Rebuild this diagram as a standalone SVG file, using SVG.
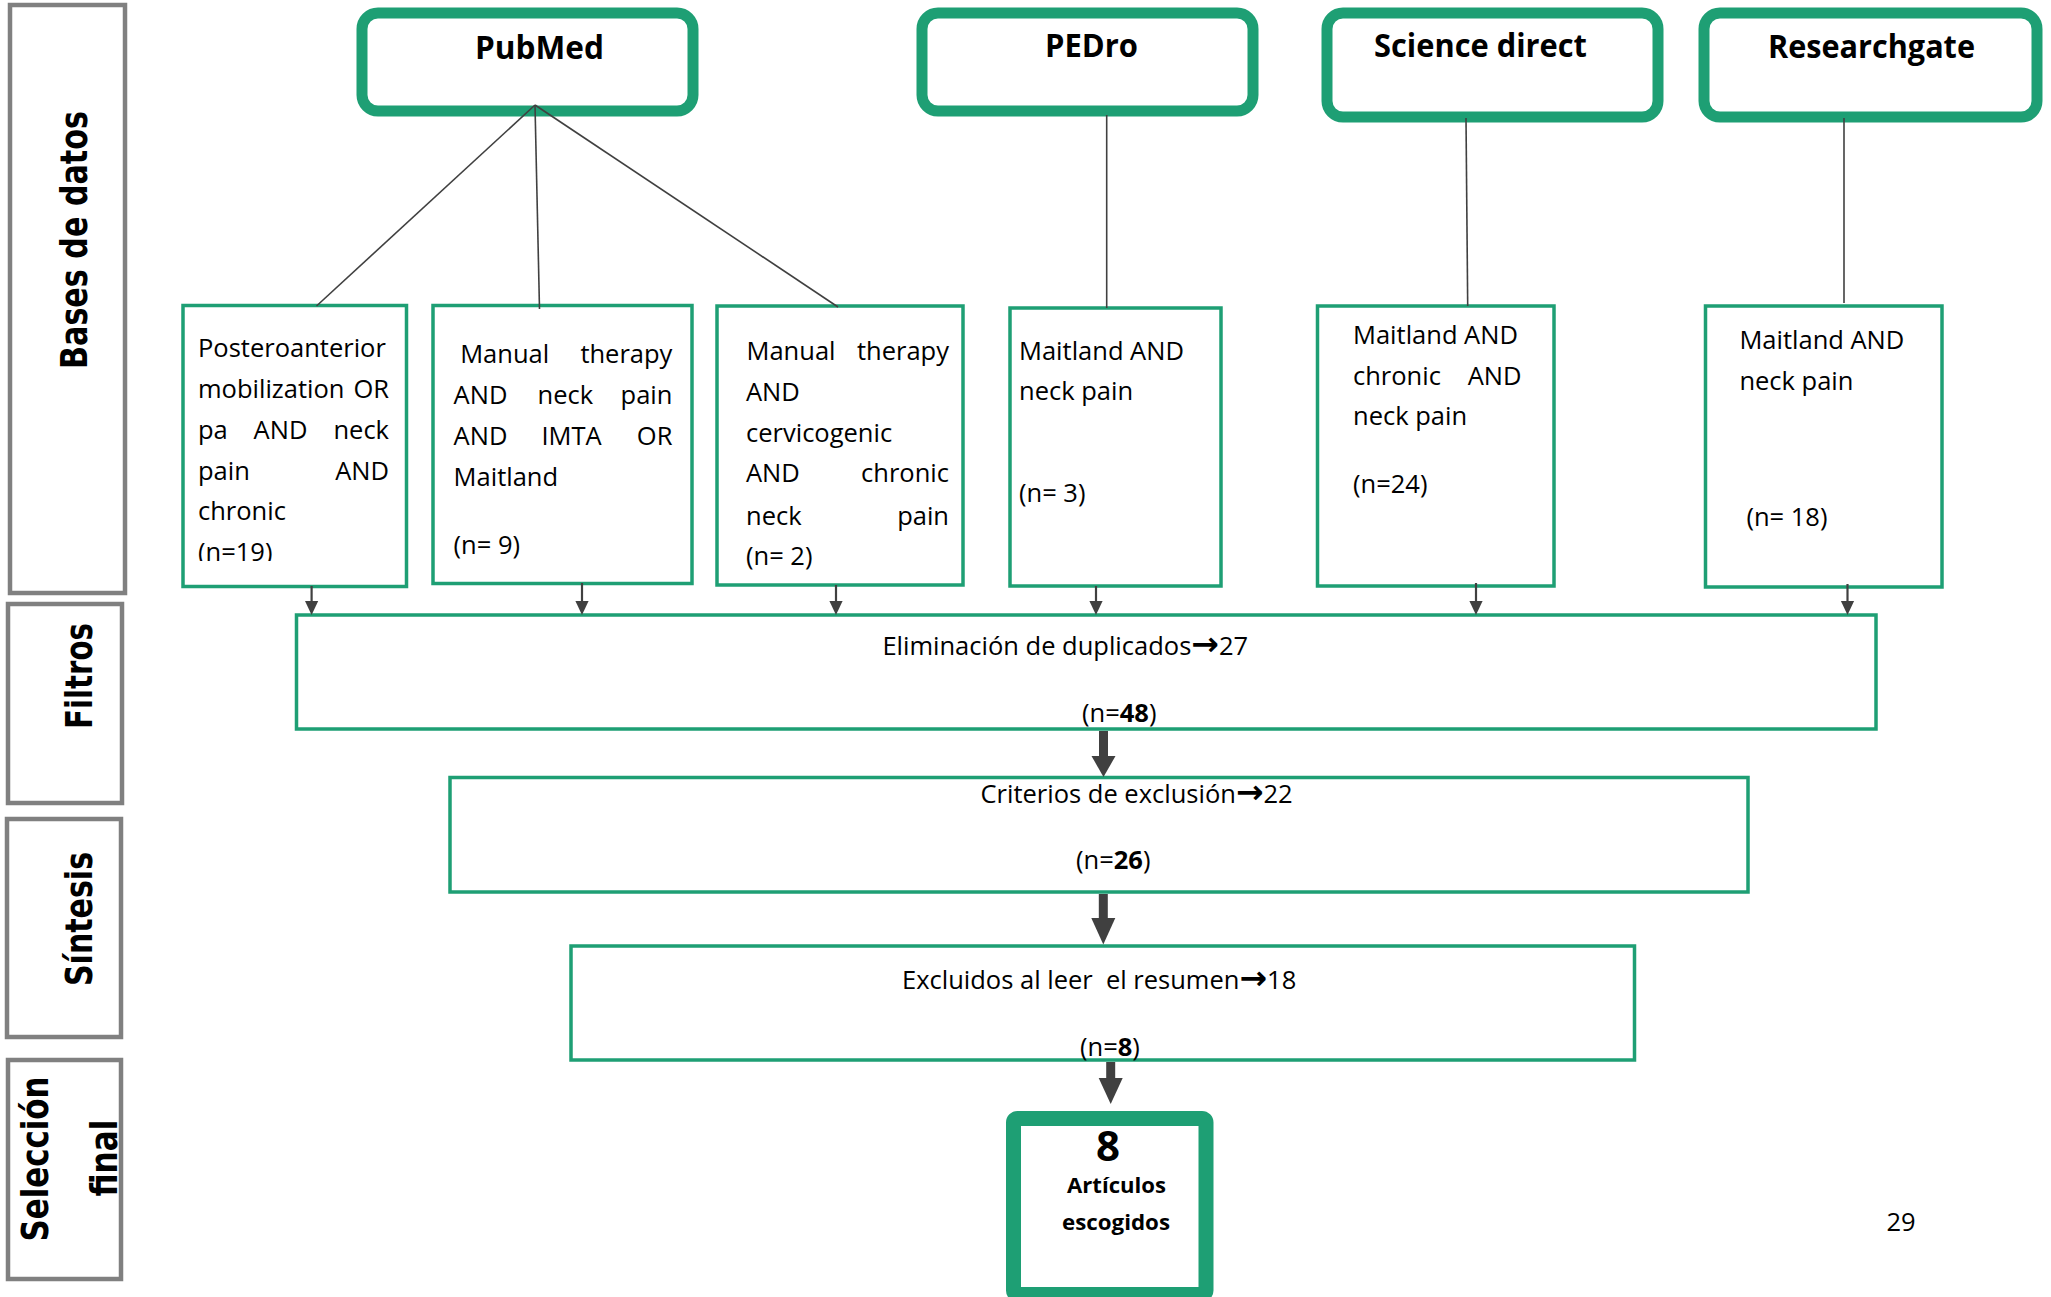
<svg xmlns="http://www.w3.org/2000/svg" width="2051" height="1297" viewBox="0 0 2051 1297">
<style>
.lab{fill:none;stroke:#808080;stroke-width:4.5}
.db{fill:#fff;stroke:#1E9F74;stroke-width:11}
.q{fill:#fff;stroke:#1E9F74;stroke-width:3.5}
.fin{fill:#fff;stroke:#1E9F74;stroke-width:15}
.t{font-family:"Open Sans","DejaVu Sans",sans-serif;font-size:25.5px;fill:#000}
.tb{font-family:"Open Sans","DejaVu Sans",sans-serif;font-weight:bold;fill:#000}
.lt{font-family:"DejaVu Sans","Verdana",sans-serif;font-weight:bold;font-size:38px;fill:#000}
.ar{font-family:"DejaVu Sans",sans-serif;font-weight:bold;font-size:33px}
.e{text-anchor:end}
.m{text-anchor:middle}
.ln{stroke:#404040;stroke-width:1.6;fill:none}
.sa{stroke:#404040;stroke-width:2.2;fill:none}
.ta{stroke:#404040;stroke-width:9;fill:none}
.ah{fill:#404040}
</style>
<defs>
<clipPath id="c1"><rect x="185" y="310" width="220" height="251"/></clipPath>
</defs>

<g id="label-bases">
<rect class="lab" x="10" y="5" width="115" height="588"/>
<text class="lt m" transform="translate(87,240) rotate(-90)" textLength="258" lengthAdjust="spacingAndGlyphs">Bases de datos</text>
</g>
<g id="label-filtros">
<rect class="lab" x="8" y="604" width="114" height="199"/>
<text class="lt m" transform="translate(92,676) rotate(-90)" textLength="106" lengthAdjust="spacingAndGlyphs">Filtros</text>
</g>
<g id="label-sintesis">
<rect class="lab" x="7" y="819" width="114" height="218"/>
<text class="lt m" transform="translate(92,919) rotate(-90)" textLength="134" lengthAdjust="spacingAndGlyphs">Síntesis</text>
</g>
<g id="label-seleccion">
<rect class="lab" x="8" y="1060" width="113" height="219"/>
<text class="lt m" transform="translate(48,1159) rotate(-90)" textLength="165" lengthAdjust="spacingAndGlyphs">Selección</text>
<text class="lt m" transform="translate(117,1158) rotate(-90)" textLength="77" lengthAdjust="spacingAndGlyphs">final</text>
</g>

<g id="db-pubmed">
<rect class="db" x="362" y="13" width="331" height="98" rx="16"/>
<text class="tb m" x="539.5" y="59" font-size="33" textLength="129" lengthAdjust="spacingAndGlyphs">PubMed</text>
</g>
<g id="db-pedro">
<rect class="db" x="922" y="13" width="331" height="98" rx="16"/>
<text class="tb m" x="1091.5" y="57" font-size="33" textLength="93" lengthAdjust="spacingAndGlyphs">PEDro</text>
</g>
<g id="db-sciencedirect">
<rect class="db" x="1327" y="13" width="331" height="104" rx="16"/>
<text class="tb m" x="1480.5" y="57" font-size="33" textLength="213" lengthAdjust="spacingAndGlyphs">Science direct</text>
</g>
<g id="db-researchgate">
<rect class="db" x="1704" y="13" width="333" height="104" rx="16"/>
<text class="tb m" x="1871.5" y="58" font-size="33" textLength="207" lengthAdjust="spacingAndGlyphs">Researchgate</text>
</g>

<g id="q1">
<rect class="q" x="183" y="305.5" width="223.5" height="281"/>
<text class="t" x="198" y="357">Posteroanterior</text>
<text class="t" x="198" y="398">mobilization</text><text class="t e" x="389" y="398">OR</text>
<text class="t" x="198" y="438.6">pa</text><text class="t" x="253.6" y="438.6">AND</text><text class="t e" x="389" y="438.6">neck</text>
<text class="t" x="198" y="480">pain</text><text class="t e" x="389" y="480">AND</text>
<text class="t" x="198" y="520">chronic</text>
<text class="t" x="198" y="561" clip-path="url(#c1)">(n=19)</text>
</g>
<g id="q2">
<rect class="q" x="433" y="305.5" width="259" height="278"/>
<text class="t" x="460.2" y="363">Manual</text><text class="t e" x="672.4" y="363">therapy</text>
<text class="t" x="453.6" y="403.5">AND</text><text class="t" x="537.5" y="403.5">neck</text><text class="t e" x="672.4" y="403.5">pain</text>
<text class="t" x="453.6" y="445">AND</text><text class="t" x="541.4" y="445">IMTA</text><text class="t e" x="672.4" y="445">OR</text>
<text class="t" x="453.6" y="485.7">Maitland</text>
<text class="t" x="453.6" y="553.7">(n= 9)</text>
</g>
<g id="q3">
<rect class="q" x="717" y="306" width="246" height="279"/>
<text class="t" x="746.5" y="359.7">Manual</text><text class="t e" x="949" y="359.7">therapy</text>
<text class="t" x="746" y="401">AND</text>
<text class="t" x="746" y="442">cervicogenic</text>
<text class="t" x="746" y="482.4">AND</text><text class="t e" x="949" y="482.4">chronic</text>
<text class="t" x="746" y="524.5">neck</text><text class="t e" x="949" y="524.5">pain</text>
<text class="t" x="746" y="565.3">(n= 2)</text>
</g>
<g id="q4">
<rect class="q" x="1010" y="308" width="211" height="278"/>
<text class="t" x="1019" y="359.7">Maitland AND</text>
<text class="t" x="1019" y="399.5">neck pain</text>
<text class="t" x="1019" y="502.3">(n= 3)</text>
</g>
<g id="q5">
<rect class="q" x="1317.5" y="306" width="236.5" height="280"/>
<text class="t" x="1353" y="343.5">Maitland AND</text>
<text class="t" x="1353" y="385">chronic</text><text class="t e" x="1521.5" y="385">AND</text>
<text class="t" x="1353" y="425.2">neck pain</text>
<text class="t" x="1353" y="492.7">(n=24)</text>
</g>
<g id="q6">
<rect class="q" x="1705.5" y="306" width="236.5" height="281"/>
<text class="t" x="1739.4" y="349">Maitland AND</text>
<text class="t" x="1739.4" y="390.4">neck pain</text>
<text class="t" x="1746.4" y="526">(n= 18)</text>
</g>

<g id="step-duplicados">
<rect class="q" x="296.5" y="615" width="1579.5" height="114"/>
<text class="t" x="882.4" y="654.5">Eliminación de duplicados<tspan class="ar">→</tspan>27</text>
<text class="t" x="1082" y="722">(n=<tspan font-weight="bold">48</tspan>)</text>
</g>
<g id="step-criterios">
<rect class="q" x="450" y="777.5" width="1298" height="114.5"/>
<text class="t" x="980.5" y="803">Criterios de exclusión<tspan class="ar">→</tspan>22</text>
<text class="t" x="1076" y="869">(n=<tspan font-weight="bold">26</tspan>)</text>
</g>
<g id="step-excluidos">
<rect class="q" x="571" y="946" width="1063.5" height="114"/>
<text class="t" x="902" y="989" xml:space="preserve">Excluidos al leer  el resumen<tspan class="ar">→</tspan>18</text>
<text class="t" x="1080" y="1055.6">(n=<tspan font-weight="bold">8</tspan>)</text>
</g>
<g id="final">
<rect class="fin" x="1013.5" y="1118.5" width="192.5" height="176" rx="4"/>
<text class="tb m" x="1108" y="1161" font-size="42">8</text>
<text class="tb m" x="1116.5" y="1193" font-size="22" textLength="99" lengthAdjust="spacingAndGlyphs">Artículos</text>
<text class="tb m" x="1116" y="1230" font-size="22" textLength="108" lengthAdjust="spacingAndGlyphs">escogidos</text>
</g>
<g id="page-number">
<text class="t m" x="1901" y="1231">29</text>
</g>

<g id="connectors">
<line class="ln" x1="535" y1="105" x2="316.5" y2="306"/>
<line class="ln" x1="535" y1="105" x2="539.5" y2="309"/>
<line class="ln" x1="535" y1="105" x2="838" y2="307"/>
<line class="ln" x1="1106.7" y1="115" x2="1106.7" y2="308"/>
<line class="ln" x1="1466" y1="118" x2="1467.7" y2="306"/>
<line class="ln" x1="1844" y1="118" x2="1844" y2="303"/>

<line class="sa" x1="311.6" y1="586" x2="311.6" y2="602"/>
<polygon class="ah" points="305,601 318.2,601 311.6,615"/>
<line class="sa" x1="582" y1="583" x2="582" y2="602"/>
<polygon class="ah" points="575.4,601 588.6,601 582,615"/>
<line class="sa" x1="836" y1="585" x2="836" y2="602"/>
<polygon class="ah" points="829.4,601 842.6,601 836,615"/>
<line class="sa" x1="1096" y1="586" x2="1096" y2="602"/>
<polygon class="ah" points="1089.4,601 1102.6,601 1096,615"/>
<line class="sa" x1="1476" y1="583" x2="1476" y2="602"/>
<polygon class="ah" points="1469.4,601 1482.6,601 1476,615"/>
<line class="sa" x1="1847.5" y1="584" x2="1847.5" y2="602"/>
<polygon class="ah" points="1840.9,601 1854.1,601 1847.5,615"/>

<line class="ta" x1="1103.5" y1="731" x2="1103.5" y2="757"/>
<polygon class="ah" points="1091.5,756 1115.5,756 1103.5,777"/>
<line class="ta" x1="1103.3" y1="894" x2="1103.3" y2="920"/>
<polygon class="ah" points="1091.3,918 1115.3,918 1103.3,944.5"/>
<line class="ta" x1="1110.7" y1="1062" x2="1110.7" y2="1080"/>
<polygon class="ah" points="1098.7,1078 1122.7,1078 1110.7,1104"/>
</g>
</svg>
